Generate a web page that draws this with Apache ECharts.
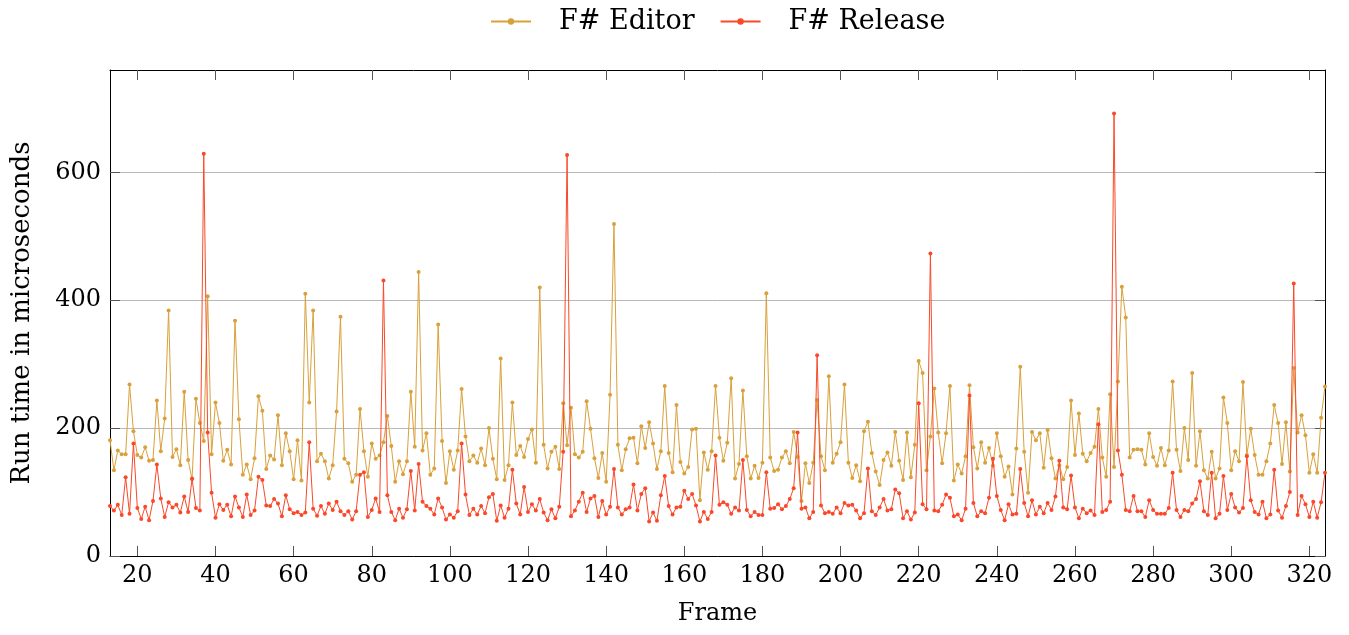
<!DOCTYPE html>
<html>
<head>
<meta charset="utf-8">
<script src="https://cdn.jsdelivr.net/npm/echarts@6/dist/echarts.min.js"></script>
<style>
html,body{margin:0;padding:0;background:#fff;}
#chart{width:1349px;height:635px;}
</style>
</head>
<body>
<div id="chart"></div>
<script>
const frameStart = 13;
const seriesNames = ['F# Editor', 'F# Release'];
const editor = [
181,134,165,159,159,268,195,158,154,170,149,150,243,164,215,384,155,167,142,257,150,120,246,208,180,
406,159,240,208,149,166,143,368,214,127,143,120,153,250,227,136,157,151,220,142,192,164,120,181,118,410,240,
384,148,160,148,121,142,226,374,152,145,116,127,230,164,124,176,152,157,178,219,172,116,148,128,148,257,171,
444,165,192,127,137,362,180,114,164,135,165,261,187,148,157,146,168,142,200,152,120,309,119,142,240,158,
172,155,183,198,146,420,174,137,163,171,136,239,173,232,159,154,163,242,199,153,122,161,116,252,519,
174,134,167,184,185,145,203,169,209,176,136,164,266,161,131,236,147,129,139,198,199,87,162,135,164,266,
185,149,177,278,121,144,259,156,121,141,122,146,411,154,133,135,154,164,145,194,155,86,145,114,146,244,
156,134,281,146,160,178,268,146,122,142,117,195,210,161,132,111,150,162,141,194,149,119,193,123,174,305,
286,134,187,262,193,145,192,266,118,143,129,156,267,170,137,178,146,169,141,192,156,124,140,96,168,296,
163,99,194,181,192,138,197,153,121,142,120,139,243,158,223,160,148,161,171,230,154,124,253,139,273,421,373,
154,166,167,166,143,192,155,141,169,142,165,273,166,133,200,150,286,141,195,134,121,163,121,137,248,208,
134,164,148,272,158,199,158,127,127,148,176,236,208,144,209,132,294,193,220,189,130,159,130,216,265
];
const release = [
78,71,80,64,123,66,176,75,58,77,56,86,143,90,61,84,76,80,68,93,69,121,75,71,629,
193,99,60,81,72,80,62,93,76,61,96,64,71,124,119,79,78,89,82,62,95,73,67,69,64,68,178,
74,63,78,66,82,72,85,70,64,70,57,70,127,131,61,72,90,69,431,95,69,56,74,60,73,133,71,
144,85,78,74,65,90,76,57,65,60,70,176,96,64,74,65,78,67,92,97,55,79,60,74,135,82,
65,108,69,81,71,89,68,56,73,59,77,163,627,62,71,85,99,69,90,94,61,86,65,77,136,
76,65,73,76,112,71,97,106,54,68,55,95,125,78,65,76,77,102,89,97,79,54,69,58,69,157,
80,84,80,66,76,71,150,72,62,69,64,64,131,74,75,81,73,78,89,106,193,74,76,59,69,314,
79,67,69,66,76,67,83,79,80,71,59,67,137,70,64,76,89,71,73,104,98,59,70,57,68,239,
81,73,473,71,70,80,96,91,62,65,56,74,251,83,62,70,67,91,152,94,72,56,81,65,66,136,
83,62,87,65,77,67,83,72,93,149,76,73,126,76,59,74,67,71,64,206,69,72,85,692,165,127,72,
70,94,70,70,61,87,72,66,66,66,75,130,72,61,72,70,82,89,117,70,64,130,59,66,125,72,
97,76,68,75,156,87,69,65,85,59,65,135,71,60,78,100,426,64,94,81,61,85,60,84,130
];
const xTicks = [20,40,60,80,100,120,140,160,180,200,220,240,260,280,300,320];
const yTicks = [0,200,400,600];

const frames = editor.map((_, i) => frameStart + i);
const editorData = frames.map((f, i) => [f, editor[i]]);
const releaseData = frames.map((f, i) => [f, release[i]]);

const FONT = 'DejaVu Serif';
const colEditor = '#D9A13B';
const colRelease = '#F9492A';
const xMin = frames[0], xMax = frames[frames.length - 1];

const chart = echarts.init(document.getElementById('chart'), null, {renderer: 'canvas'});
const frameAxis = (pos, labels) => ({
  type: 'value', min: xMin, max: xMax, position: pos,
  axisLine: {show: true, onZero: false, lineStyle: {color: '#000', width: 1}},
  axisTick: {show: true, inside: true, length: 10, customValues: xTicks, lineStyle: {color: '#555', width: 1}},
  axisLabel: {show: labels, customValues: xTicks, fontFamily: FONT, fontSize: 24, color: '#000', margin: 8},
  splitLine: {show: false},
  name: labels ? 'Frame' : '', nameLocation: 'middle', nameGap: 46,
  nameTextStyle: {fontFamily: FONT, fontSize: 24, color: '#000'}
});
const valueAxis = (pos, labels) => ({
  type: 'value', min: 0, max: 760, interval: 200, position: pos,
  axisLine: {show: true, onZero: false, lineStyle: {color: '#000', width: 1}},
  axisTick: {show: true, inside: true, length: 10, customValues: yTicks, lineStyle: {color: '#555', width: 1}},
  axisLabel: {show: labels, customValues: yTicks, fontFamily: FONT, fontSize: 24, color: '#000', margin: 9},
  splitLine: {show: labels, lineStyle: {color: '#b8b8b8', width: 1}},
  name: labels ? 'Run time in microseconds' : '', nameLocation: 'middle', nameGap: 75,
  nameTextStyle: {fontFamily: FONT, fontSize: 26, color: '#000'}
});

chart.setOption({
  animation: false,
  backgroundColor: '#fff',
  textStyle: {fontFamily: FONT},
  legend: {
    top: 3, left: 485,
    itemWidth: 40, itemHeight: 8, itemGap: 25,
    textStyle: {fontFamily: FONT, fontSize: 27, color: '#000', padding: [0, 0, 0, 23]},
    data: seriesNames
  },
  grid: {left: 110, right: 24, top: 70, bottom: 79, containLabel: false},
  xAxis: [frameAxis('bottom', true), frameAxis('top', false)],
  yAxis: [valueAxis('left', true), valueAxis('right', false)],
  series: [
    {name: seriesNames[0], type: 'line', data: editorData, color: colEditor,
     lineStyle: {width: 1, color: colEditor}, symbol: 'circle', symbolSize: 4,
     itemStyle: {color: colEditor}, showAllSymbol: true, z: 2},
    {name: seriesNames[1], type: 'line', data: releaseData, color: colRelease,
     lineStyle: {width: 1, color: colRelease}, symbol: 'circle', symbolSize: 4,
     itemStyle: {color: colRelease}, showAllSymbol: true, z: 3}
  ]
});
</script>
</body>
</html>
